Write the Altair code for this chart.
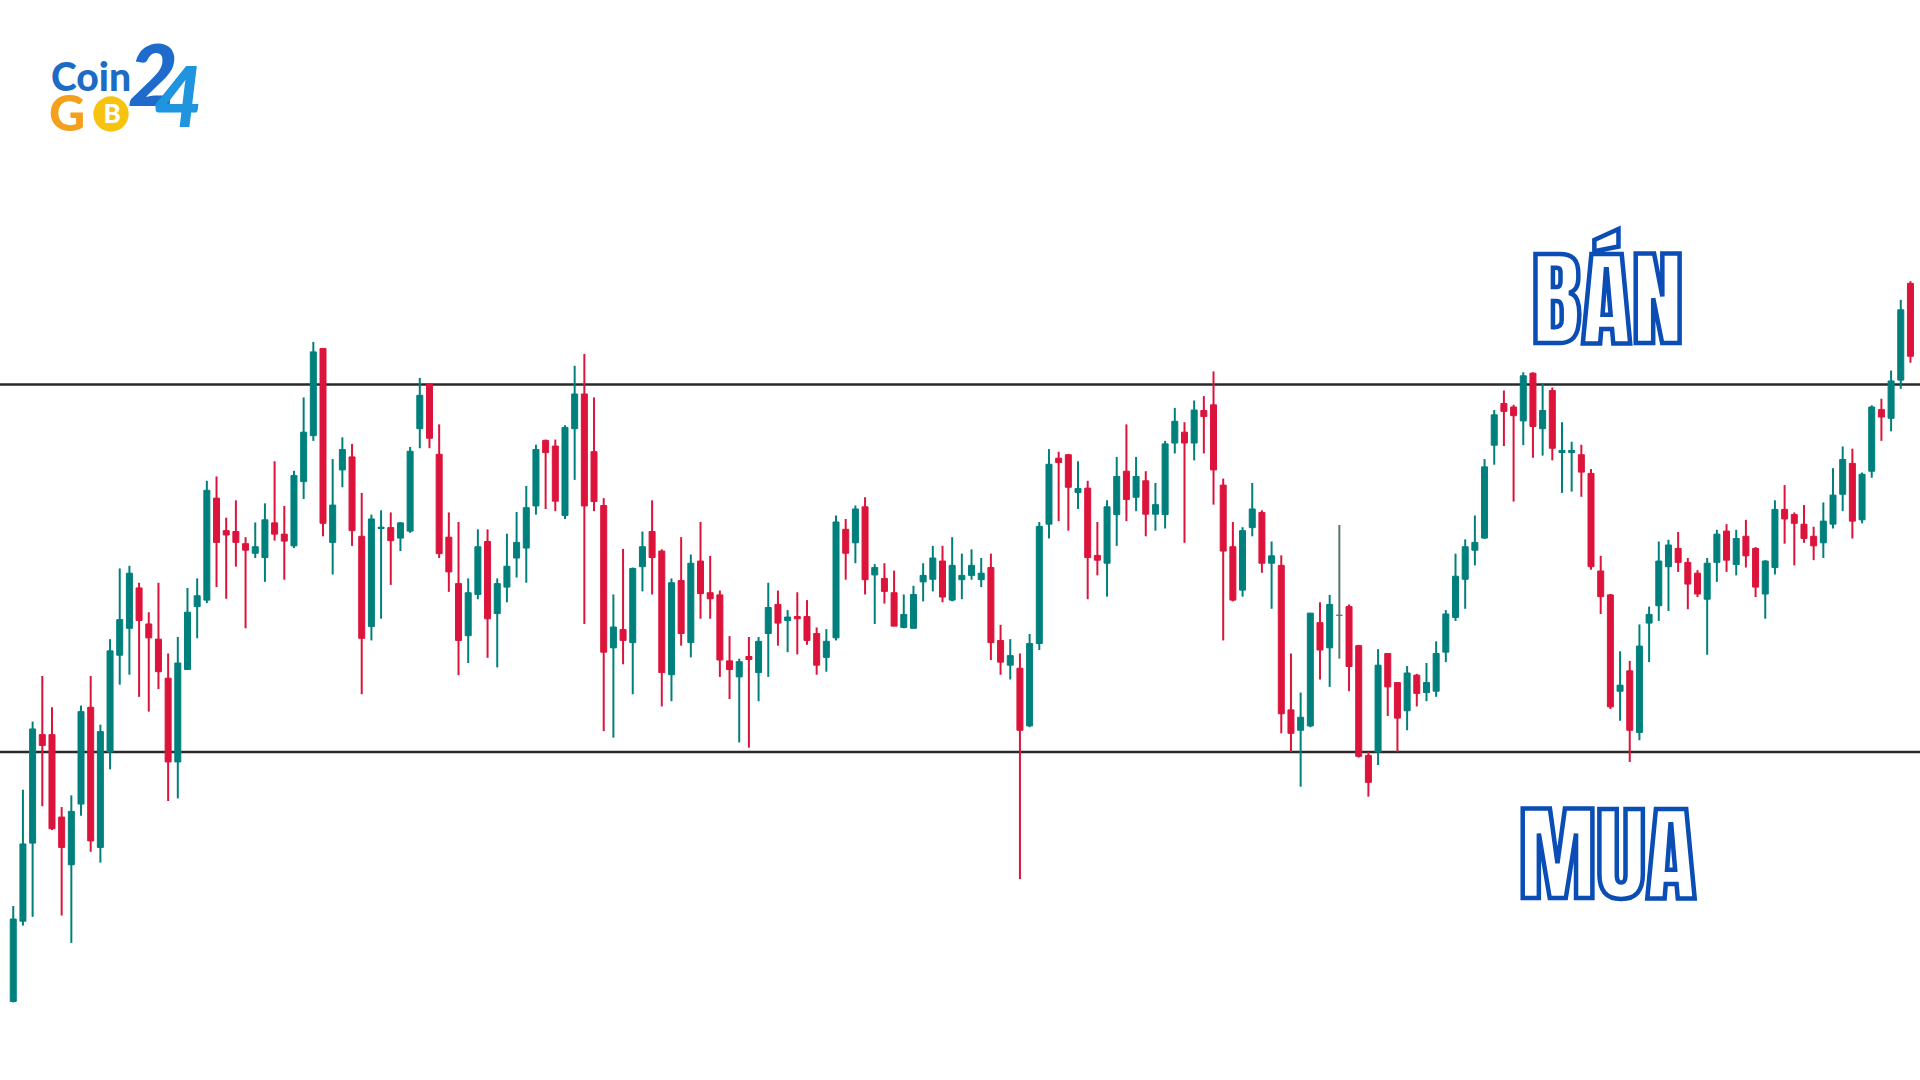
import altair as alt
import pandas as pd
import numpy as np

# ---- OHLC values (arbitrary price units) ----
open_ = [450, 635, 815, 1065, 1065, 875, 765, 905, 1128, 805,
         1025, 1248, 1310, 1403, 1320, 1285, 1195, 1002, 1215, 1360,
         1375, 1610, 1535, 1533, 1505, 1483, 1473, 1553, 1527, 1500,
         1648, 1754, 1955, 1508, 1675, 1705, 1522, 1314, 1540, 1542,
         1518, 1534, 1770, 1872, 1711, 1520, 1413, 1293, 1388, 1510,
         1344, 1405, 1472, 1495, 1592, 1743, 1730, 1570, 1770, 1850,
         1717, 1593, 1265, 1307, 1277, 1452, 1533, 1488, 1203, 1420,
         1277, 1465, 1392, 1387, 1235, 1198, 1245, 1208, 1298, 1365,
         1328, 1337, 1337, 1298, 1243, 1288, 1538, 1507, 1590, 1433,
         1425, 1392, 1312, 1310, 1417, 1423, 1465, 1375, 1422, 1432,
         1422, 1450, 1282, 1225, 1218, 1085, 1275, 1550, 1702, 1710,
         1623, 1633, 1478, 1460, 1572, 1672, 1612, 1650, 1573, 1572,
         1737, 1762, 1737, 1812, 1825, 1640, 1498, 1398, 1542, 1577,
         1460, 1455, 1122, 1075, 1085, 1323, 1265, 1340, 1360, 1270,
         1017, 1025, 1252, 1185, 1120, 1202, 1162, 1165, 1255, 1335,
         1423, 1490, 1518, 1732, 1828, 1820, 1788, 1898, 1770, 1858,
         1715, 1715, 1710, 1667, 1442, 1387, 1165, 1212, 1070, 1322,
         1362, 1452, 1494, 1462, 1437, 1377, 1462, 1534, 1457, 1522,
         1494, 1389, 1450, 1584, 1572, 1550, 1522, 1507, 1550, 1619,
         1690, 1560, 1672, 1814, 1794, 1882, 2105]

high = [670, 938, 1095, 1200, 1128, 898, 925, 1132, 1200, 1088,
        1285, 1448, 1454, 1415, 1347, 1415, 1252, 1290, 1403, 1425,
        1650, 1660, 1565, 1605, 1520, 1554, 1598, 1695, 1592, 1673,
        1842, 1970, 1955, 1700, 1750, 1735, 1622, 1572, 1582, 1577,
        1555, 1728, 1887, 1875, 1780, 1577, 1555, 1425, 1538, 1538,
        1425, 1528, 1578, 1638, 1733, 1745, 1745, 1778, 1915, 1942,
        1842, 1610, 1388, 1493, 1450, 1533, 1605, 1492, 1425, 1520,
        1480, 1555, 1477, 1397, 1292, 1240, 1290, 1290, 1415, 1397,
        1352, 1393, 1375, 1312, 1308, 1570, 1562, 1593, 1612, 1458,
        1460, 1443, 1388, 1408, 1460, 1500, 1500, 1520, 1482, 1492,
        1472, 1482, 1318, 1285, 1252, 1297, 1555, 1723, 1717, 1712,
        1695, 1650, 1555, 1605, 1705, 1780, 1705, 1672, 1645, 1742,
        1818, 1785, 1835, 1845, 1902, 1655, 1555, 1543, 1645, 1582,
        1510, 1478, 1252, 1162, 1345, 1370, 1387, 1548, 1365, 1272,
        1025, 1262, 1252, 1185, 1223, 1205, 1230, 1280, 1352, 1482,
        1515, 1570, 1700, 1813, 1858, 1825, 1900, 1900, 1873, 1865,
        1785, 1740, 1733, 1677, 1477, 1389, 1257, 1235, 1319, 1360,
        1510, 1514, 1532, 1472, 1444, 1472, 1537, 1550, 1537, 1560,
        1497, 1467, 1605, 1640, 1577, 1594, 1544, 1600, 1679, 1729,
        1724, 1669, 1824, 1839, 1904, 2067, 2110]

low = [448, 625, 645, 900, 845, 648, 585, 878, 795, 770,
       985, 1180, 1203, 1152, 1118, 1170, 912, 918, 1215, 1287,
       1368, 1405, 1378, 1452, 1310, 1472, 1417, 1512, 1422, 1495,
       1608, 1742, 1522, 1434, 1635, 1500, 1158, 1282, 1332, 1410,
       1488, 1530, 1725, 1725, 1472, 1394, 1202, 1230, 1377, 1242,
       1220, 1370, 1427, 1415, 1572, 1585, 1580, 1562, 1652, 1320,
       1580, 1073, 1058, 1227, 1158, 1395, 1388, 1130, 1142, 1270,
       1243, 1332, 1332, 1198, 1147, 1047, 1035, 1142, 1198, 1270,
       1255, 1250, 1272, 1203, 1210, 1282, 1422, 1460, 1388, 1320,
       1367, 1315, 1310, 1310, 1372, 1395, 1370, 1372, 1377, 1422,
       1405, 1237, 1203, 1192, 732, 1082, 1260, 1517, 1557, 1535,
       1585, 1377, 1432, 1383, 1500, 1557, 1580, 1522, 1535, 1540,
       1713, 1507, 1697, 1713, 1595, 1282, 1372, 1383, 1522, 1438,
       1355, 1068, 1025, 945, 1082, 1192, 1175, 1240, 1165, 1012,
       922, 995, 1108, 1025, 1075, 1130, 1142, 1152, 1232, 1327,
       1355, 1455, 1516, 1687, 1730, 1602, 1732, 1703, 1708, 1697,
       1622, 1625, 1613, 1445, 1343, 1124, 1097, 1002, 1052, 1232,
       1327, 1350, 1440, 1354, 1382, 1249, 1417, 1440, 1432, 1450,
       1382, 1332, 1434, 1505, 1455, 1507, 1467, 1472, 1540, 1580,
       1517, 1552, 1657, 1742, 1764, 1862, 1922]

close = [640, 813, 1078, 1040, 848, 805, 888, 1118, 820, 1072,
         1258, 1330, 1437, 1328, 1288, 1210, 1002, 1230, 1347, 1385,
         1628, 1508, 1525, 1508, 1490, 1498, 1560, 1527, 1511, 1662,
         1762, 1947, 1552, 1594, 1722, 1535, 1287, 1562, 1543, 1512,
         1553, 1718, 1847, 1748, 1482, 1440, 1282, 1392, 1498, 1332,
         1413, 1453, 1508, 1588, 1722, 1715, 1603, 1773, 1850, 1592,
         1602, 1255, 1313, 1282, 1448, 1498, 1473, 1208, 1415, 1298,
         1460, 1390, 1378, 1237, 1215, 1233, 1238, 1280, 1358, 1322,
         1336, 1332, 1282, 1225, 1280, 1555, 1483, 1585, 1422, 1450,
         1395, 1315, 1342, 1388, 1432, 1472, 1382, 1455, 1432, 1455,
         1437, 1277, 1232, 1247, 1075, 1275, 1545, 1688, 1692, 1635,
         1632, 1473, 1467, 1590, 1660, 1607, 1660, 1573, 1595, 1735,
         1787, 1737, 1813, 1798, 1675, 1488, 1375, 1535, 1585, 1460,
         1477, 1113, 1068, 1105, 1345, 1260, 1365, 1340, 1222, 1015,
         955, 1225, 1175, 1103, 1207, 1160, 1185, 1252, 1343, 1430,
         1498, 1508, 1682, 1802, 1810, 1800, 1892, 1775, 1812, 1725,
         1720, 1720, 1670, 1452, 1383, 1129, 1179, 1075, 1269, 1342,
         1465, 1502, 1462, 1412, 1389, 1460, 1527, 1467, 1517, 1477,
         1405, 1465, 1584, 1562, 1552, 1517, 1500, 1557, 1617, 1699,
         1557, 1665, 1820, 1797, 1880, 2044, 1937]

level_names = ["resistance", "support"]
level_values = [1872, 1025]

label_texts = ["BÁN", "MUA"]
label_index = [164.7, 164.7]
label_price = [1968, 689]

df = pd.DataFrame({"i": np.arange(len(open_)), "open": open_, "high": high,
                   "low": low, "close": close})
df["dir"] = np.where(df["close"] > df["open"], "up",
                     np.where(df["close"] < df["open"], "down", "flat"))

levels_df = pd.DataFrame({"name": level_names, "level": level_values})
labels_df = pd.DataFrame({"t": label_texts, "i": label_index, "p": label_price})

xsc = alt.Scale(domain=[-0.853, 196.47], nice=False, zero=False)
ysc = alt.Scale(domain=[269, 2758], nice=False, zero=False)
cscale = alt.Scale(domain=["up", "down", "flat"],
                   range=["#00807C", "#DC143C", "#5B7371"])

base = alt.Chart(df)
wicks = base.mark_rule(strokeWidth=2).encode(
    x=alt.X("i:Q", scale=xsc, axis=None),
    y=alt.Y("low:Q", scale=ysc, axis=None),
    y2="high:Q",
    color=alt.Color("dir:N", scale=cscale, legend=None),
)
bodies = base.mark_bar(width=6, strokeWidth=1).encode(
    x=alt.X("i:Q", scale=xsc, axis=None),
    y=alt.Y("open:Q", scale=ysc, axis=None),
    y2="close:Q",
    color=alt.Color("dir:N", scale=cscale, legend=None),
    stroke=alt.Stroke("dir:N", scale=cscale, legend=None),
)

lines = alt.Chart(levels_df).mark_rule(color="#2a2a2a", strokeWidth=2.5).encode(
    y=alt.Y("level:Q", scale=ysc, axis=None)
)

labels = alt.Chart(labels_df).mark_text(
    font="Anton, Oswald, sans-serif", fontWeight="normal", fontSize=104,
    fill="white", stroke="#0A4DB5", strokeWidth=4.5,
    align="center", baseline="alphabetic",
).encode(
    x=alt.X("i:Q", scale=xsc, axis=None),
    y=alt.Y("p:Q", scale=ysc, axis=None),
    text="t:N",
)

# ---- logo ----
def one(t):
    return alt.Chart(pd.DataFrame({"t": [t]}))

coin = one("Coin").mark_text(font="Lato Black, Lato", fontWeight="bold", fontSize=39,
                             color="#1C6CC6", align="left", baseline="alphabetic").encode(
    x=alt.value(51), y=alt.value(91), text="t:N")
g = one("G").mark_text(font="Lato Black, Lato", fontWeight="bold", fontSize=50,
                       color="#F4A01C", align="left", baseline="alphabetic").encode(
    x=alt.value(49), y=alt.value(131), text="t:N")
coin_circle = one("o").mark_circle(size=1250, color="#F6C40F", opacity=1).encode(
    x=alt.value(111), y=alt.value(114))
btc = one("B").mark_text(font="Lato Black, Lato", fontWeight="bold", fontSize=26,
                         color="white", align="center", baseline="middle").encode(
    x=alt.value(112), y=alt.value(115), text="t:N")
two = one("2").mark_text(font="Lato Black, Lato", fontWeight="bold", fontStyle="italic",
                         fontSize=86, color="#1E6BCB", align="center", baseline="alphabetic").encode(
    x=alt.value(153), y=alt.value(106), text="t:N")
four = one("4").mark_text(font="Lato Black, Lato", fontWeight="bold", fontStyle="italic",
                          fontSize=84, color="#1E95DE", align="center", baseline="alphabetic").encode(
    x=alt.value(178), y=alt.value(127), text="t:N")

chart = alt.layer(lines, wicks, bodies, labels, coin, g, coin_circle, btc, two, four).properties(
    width=1920, height=1080, padding=0,
    autosize=alt.AutoSizeParams(type="none"),
    background="white",
).configure_view(stroke=None)

chart.save("out.html", embed_options={"renderer": "svg", "actions": False})
